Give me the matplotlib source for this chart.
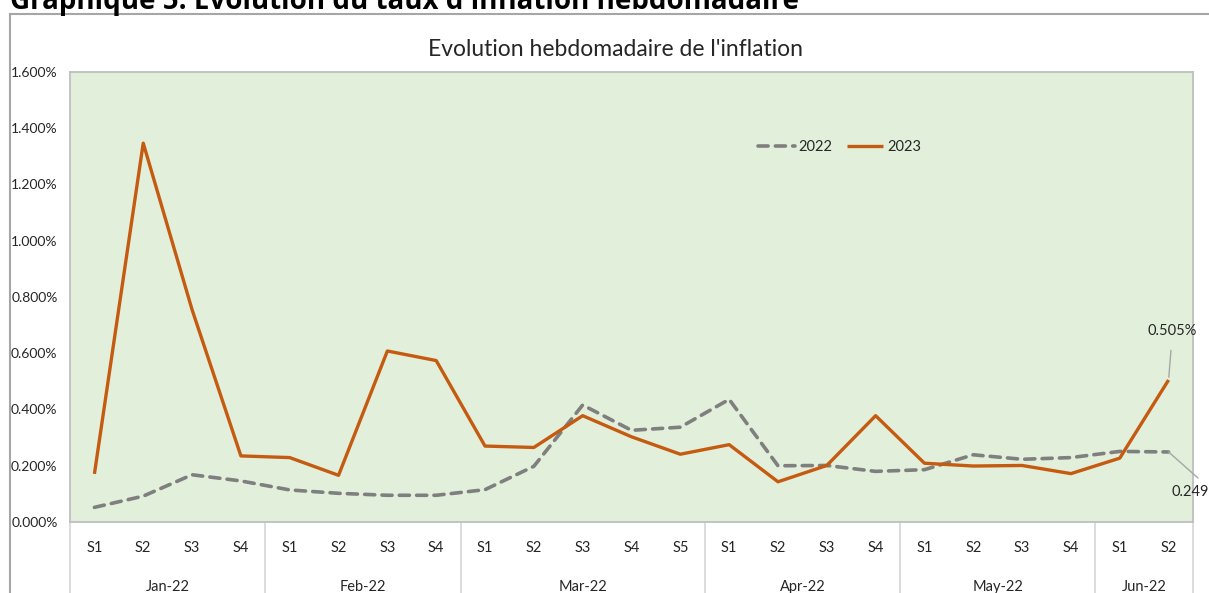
import matplotlib
matplotlib.use("Agg")
import matplotlib.pyplot as plt
from matplotlib.lines import Line2D
import numpy as np

weeks = ["S1", "S2", "S3", "S4",
         "S1", "S2", "S3", "S4",
         "S1", "S2", "S3", "S4", "S5",
         "S1", "S2", "S3", "S4",
         "S1", "S2", "S3", "S4",
         "S1", "S2"]
months = ["Jan-22", "Feb-22", "Mar-22", "Apr-22", "May-22", "Jun-22"]
month_sizes = [4, 4, 5, 4, 4, 2]

inf_2022 = [0.052, 0.092, 0.168, 0.146, 0.114, 0.102, 0.095, 0.095,
            0.115, 0.198, 0.416, 0.326, 0.337, 0.436, 0.200, 0.201,
            0.180, 0.186, 0.239, 0.223, 0.229, 0.251, 0.249]
inf_2023 = [0.171, 1.347, 0.755, 0.235, 0.229, 0.166, 0.608, 0.574,
            0.270, 0.265, 0.378, 0.303, 0.241, 0.275, 0.143, 0.201,
            0.378, 0.209, 0.199, 0.201, 0.172, 0.227, 0.505]

W, H = 1209, 593
fig = plt.figure(figsize=(W / 100, H / 100), dpi=100)
FONT = ['Lato', 'DejaVu Sans']
TXT = '#262626'
FS = 10.5

def fx(px):
    return px / W

def fy(py):
    return 1 - py / H

# plot area
L, R, T, B = 70, 1193, 72, 522
ax = fig.add_axes([fx(L), fy(B), fx(R - L), (B - T) / H])
ax.set_facecolor('#E2EFDA')

x = np.arange(len(weeks))
ax.plot(x, inf_2022, color='#7F7F7F', lw=2.6, linestyle=(0, (2.8, 2.0)),
        dash_capstyle='round', label='2022', zorder=3)
ax.plot(x, inf_2023, color='#C55A11', lw=2.4, solid_capstyle='butt',
        label='2023', zorder=4)

ax.set_xlim(-0.5, len(weeks) - 0.5)
ax.set_ylim(0, 1.6)
yt = np.arange(0, 1.601, 0.2)
ax.set_yticks(yt)
ax.set_yticklabels([f"{v:.3f}%" for v in yt], family=FONT, fontsize=10, color=TXT)
ax.tick_params(axis='y', length=0, pad=9)
ax.set_xticks([])
for s in ax.spines.values():
    s.set_color('#BFBFBF')
    s.set_linewidth(1.3)

# category axis labels
xt = ax.get_xaxis_transform()
for i, w in enumerate(weeks):
    ax.text(i, -(548 - B) / (B - T), w, transform=xt, ha='center', va='center',
            family=FONT, fontsize=FS, color=TXT, clip_on=False)
start = 0
bounds = [-0.5]
for m, n in zip(months, month_sizes):
    center = start + (n - 1) / 2
    ax.text(center, -(587 - B) / (B - T), m, transform=xt, ha='center', va='center',
            family=FONT, fontsize=FS, color=TXT, clip_on=False)
    start += n
    bounds.append(start - 0.5)
for b in bounds:
    ax.add_line(Line2D([b, b], [0, -0.2], transform=xt,
                       color='#D9D9D9', lw=1.3, clip_on=False))

# legend
leg = ax.legend(loc='upper left',
                bbox_to_anchor=((745 - L) / (R - L), (B - 127) / (B - T)),
                ncol=2, frameon=False, handlelength=2.5, columnspacing=1.0,
                handletextpad=0.25, prop={'family': FONT, 'size': FS})
for t in leg.get_texts():
    t.set_color(TXT)

# data labels
n = len(weeks) - 1
ax.annotate(f"{inf_2023[-1]:.3f}%", xy=(n, inf_2023[-1]),
            xytext=(1172.5, H - 331), textcoords='figure pixels',
            ha='center', va='center', family=FONT, fontsize=FS, color=TXT,
            arrowprops=dict(arrowstyle='-', color='#A6A6A6', lw=1,
                            shrinkA=7, shrinkB=2), annotation_clip=False)
ax.annotate(f"{inf_2022[-1]:.3f}%", xy=(n, inf_2022[-1]),
            xytext=(1171, H - 492), textcoords='figure pixels',
            ha='left', va='center', family=FONT, fontsize=FS, color=TXT,
            arrowprops=dict(arrowstyle='-', color='#A6A6A6', lw=1,
                            shrinkA=0, shrinkB=0, relpos=(0.55, 1.5)),
            annotation_clip=False)

# chart title
fig.text(fx(615), fy(50), "Evolution hebdomadaire de l'inflation",
         ha='center', va='center', family=FONT, fontsize=16.5, color=TXT)

# document heading (clipped at top)
fig.text(fx(10), fy(8.5), "Graphique 5: Evolution du taux d'inflation hebdomadaire",
         ha='left', va='baseline', family=['Open Sans', 'DejaVu Sans'],
         fontweight='bold', fontsize=20, color='black')

# chart frame
fig.add_artist(Line2D([fx(10), 1], [fy(14), fy(14)], color='#A6A6A6', lw=1.5))
fig.add_artist(Line2D([fx(10), fx(10)], [0, fy(14)], color='#A6A6A6', lw=1.5))

fig.savefig('out.png', dpi=100)
